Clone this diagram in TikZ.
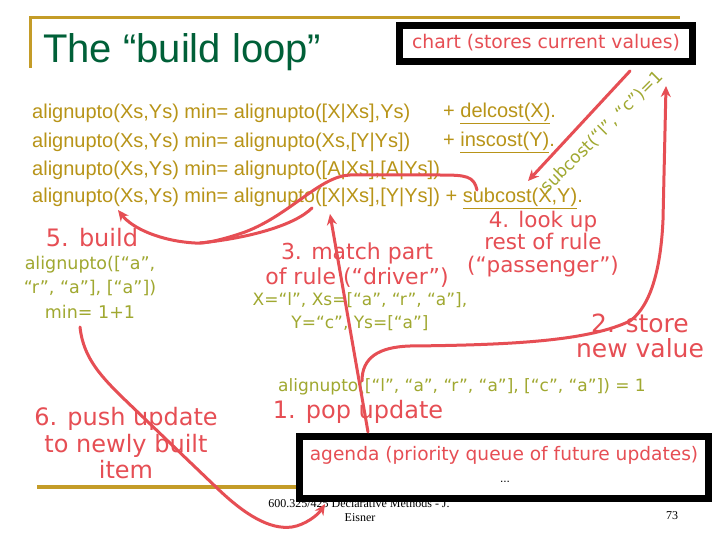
\documentclass[tikz,border=0pt]{standalone}
\usepackage{fontspec}
\setmainfont{Liberation Sans}
\newfontfamily\comicfont{DejaVu Sans}
\newfontfamily\footfont{Liberation Serif}
\usetikzlibrary{arrows.meta,positioning,calc}
\definecolor{rulegold}{RGB}{184,148,24}
\definecolor{framegold}{RGB}{196,156,40}
\definecolor{titlegreen}{RGB}{0,96,56}
\definecolor{penred}{RGB}{230,78,84}
\definecolor{bindolive}{RGB}{160,168,48}
\newcommand{\pxsize}[2]{\fontsize{#1pt}{#2pt}\selectfont}

\begin{document}
\begin{tikzpicture}[x=1pt, y=-1pt,
    ruleline/.style={anchor=west, inner sep=0pt, text=rulegold, font=\pxsize{20}{24}},
    talk/.style={text=penred, align=center, inner sep=0pt, font=\comicfont\pxsize{22}{25}},
    bigtalk/.style={talk, font=\comicfont\pxsize{24}{26.5}},
    bind/.style={text=bindolive, align=center, inner sep=0pt, font=\comicfont\pxsize{17}{24}},
    boxframe/.style={draw=black, line width=7pt, fill=white, inner sep=0pt},
    penline/.style={draw=penred, line width=3pt, line cap=round},
    pen/.style={penline, -{Stealth[length=11pt, width=10pt]}}]
    \useasboundingbox (0,0) rectangle (720,540);
    \fill[white] (0,0) rectangle (720,540);
    \draw[framegold, line width=3pt] (30,68) -- (30,18) -- (680,18);
    \draw[framegold, line width=3.5pt] (37,487) -- (690,487);
    \node[anchor=base west, inner sep=0pt, text=titlegreen, font=\pxsize{40}{40}] (title) at (43,63) {The “build loop”};
    \node[boxframe, minimum width=293pt, minimum height=36pt] (chart) at (546,43.5) {};
    \node[talk, font=\comicfont\pxsize{18.8}{20}] (charttext) at (546,43) {chart (stores current values)};
    \node[ruleline] (ruleA) at (32,113) {alignupto(Xs,Ys) min= alignupto([X|Xs],Ys)};
    \node[ruleline] (costA) at (443,113) {+ \underline{delcost(X)}.};
    \node[ruleline] (ruleB) at (32,142) {alignupto(Xs,Ys) min= alignupto(Xs,[Y|Ys])};
    \node[ruleline] (costB) at (443,142) {+ \underline{inscost(Y)}.};
    \node[ruleline] (ruleC) at (32,170) {alignupto(Xs,Ys) min= alignupto([A|Xs],[A|Ys])};
    \node[ruleline] (ruleD) at (32,198) {alignupto(Xs,Ys) min= alignupto([X|Xs],[Y|Ys]) + \underline{subcost(X,Y)}.};
    \node[bind, rotate=45, font=\comicfont\pxsize{17}{20}] (subcostval) at (602,132) {subcost(“l”, “c”)=1};
    \node[bigtalk] (build) at (92,238) {5. build};
    \node[bind, font=\comicfont\pxsize{17.5}{24.5}] (built) at (90,287) {alignupto([“a”,\\“r”, “a”], [“a”])\\min= 1+1};
    \node[talk] (match) at (357,265.5) {3. match part\\of rule (“driver”)};
    \node[bind, font=\comicfont\pxsize{17}{23}] (binding) at (360,311.5) {X=“l”, Xs=[“a”, “r”, “a”],\\Y=“c”, Ys=[“a”]};
    \node[talk, font=\comicfont\pxsize{21.5}{22.5}] (lookup) at (543,244) {4. look up\\rest of rule\\(“passenger”)};
    \node[talk, font=\comicfont\pxsize{25}{25}] (store) at (640,335.5) {2. store\\new value};
    \node[bind] (popped) at (462,387) {alignupto([“l”, “a”, “r”, “a”], [“c”, “a”]) = 1};
    \node[bigtalk] (pop) at (358,412) {1. pop update};
    \node[bigtalk] (push) at (126,443.5) {6. push update\\to newly built\\item};
    \node[inner sep=0pt, font=\footfont\pxsize{12}{15}] (footA) at (359,503) {600.325/425 Declarative Methods - J.};
    \node[inner sep=0pt, font=\footfont\pxsize{12}{15}] (footB) at (360,518) {Eisner};
    \node[inner sep=0pt, font=\footfont\pxsize{12}{15}] (pagenum) at (672,516) {73};
    \node[boxframe, minimum width=409pt, minimum height=62pt] (agenda) at (504,467.5) {};
    \node[talk, font=\comicfont\pxsize{18.6}{20}] (agendatext) at (504,455) {agenda (priority queue of future updates)};
    \node[inner sep=0pt, font=\pxsize{12}{12}] (agendadots) at (505,482) {...};
    \coordinate (chartout) at (630,71);
    \coordinate (subcostin) at (528,181);
    \coordinate (popout) at (362,381);
    \coordinate (chartin) at (666,86);
    \coordinate (agendaout) at (368,432);
    \coordinate (driverin) at (330,214);
    \coordinate (passengerout) at (477,190);
    \coordinate (driverout) at (312,208);
    \coordinate (headin) at (118,210);
    \coordinate (builtout) at (80,327);
    \coordinate (agendain) at (325,504);
    \draw[pen] (chartout) -- (subcostin);
    \draw[pen] (popout) .. controls (362,358) and (378,347) .. (410,346)
        .. controls (520,345) and (590,340) .. (630,321)
        .. controls (652,305) and (661,265) .. (663,220) -- (chartin);
    \draw[pen] (agendaout) -- (driverin);
    \draw[penline] (driverout) .. controls (295,225) and (250,238) .. (200,243);
    \draw[pen] (passengerout) .. controls (474,176) and (466,175) .. (440,175) -- (350,175)
        .. controls (320,176) and (290,215) .. (245,232)
        .. controls (225,239) and (205,244) .. (195,243)
        .. controls (160,241) and (132,228) .. (headin);
    \draw[pen] (builtout) .. controls (84,365) and (110,385) .. (147,421) -- (217,488)
        .. controls (245,515) and (270,530) .. (292,527)
        .. controls (305,525) and (318,515) .. (agendain);
\end{tikzpicture}
\end{document}
